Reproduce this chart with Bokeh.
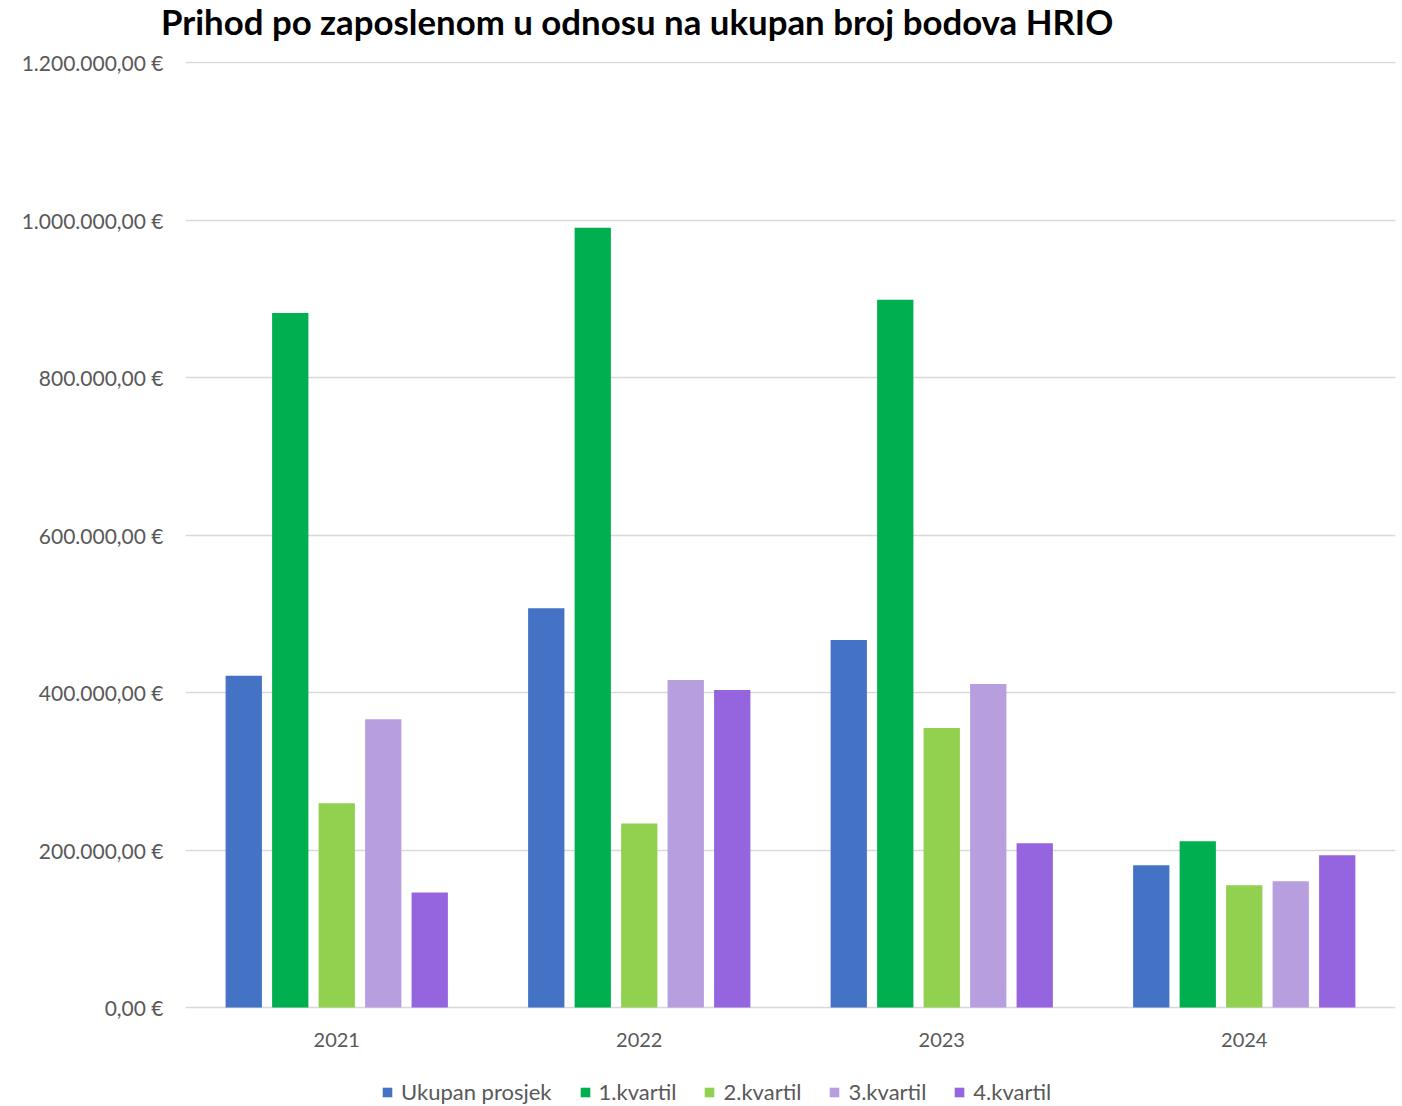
from bokeh.plotting import figure
from bokeh.models import ColumnDataSource, FactorRange, Legend, LegendItem, FixedTicker, Div
from bokeh.layouts import column
from bokeh.transform import dodge
from bokeh.core.properties import value
from bokeh.embed import file_html
from bokeh.resources import INLINE

title_text = "Prihod po zaposlenom u odnosu na ukupan broj bodova HRIO"
years = ["2021", "2022", "2023", "2024"]
series_names = ["Ukupan prosjek", "1.kvartil", "2.kvartil", "3.kvartil", "4.kvartil"]
ukupan_prosjek = [421500, 507000, 466700, 180600]
kvartil_1 = [882000, 990500, 899000, 211000]
kvartil_2 = [259500, 233600, 355000, 155300]
kvartil_3 = [366000, 416000, 411000, 160400]
kvartil_4 = [146000, 403400, 208500, 193300]
y_ticks = [0, 200000, 400000, 600000, 800000, 1000000, 1200000]
y_tick_labels = ["0,00 €", "200.000,00 €", "400.000,00 €", "600.000,00 €",
                 "800.000,00 €", "1.000.000,00 €", "1.200.000,00 €"]
colors = ["#4472C4", "#00B050", "#92D050", "#B79FDF", "#9564DF"]

FONT = "Lato"
TXT = "#595959"

src = ColumnDataSource(dict(year=years, s0=ukupan_prosjek, s1=kvartil_1,
                            s2=kvartil_2, s3=kvartil_3, s4=kvartil_4,
                            zero=[0] * len(years)))

title = Div(text='<div style="font-family:Lato; font-weight:bold; font-size:34.8px; '
                 'line-height:43px; padding-left:161px; white-space:nowrap; color:black;">'
                 + title_text + '</div>',
            width=1400, height=44, margin=0)

# frame extends below zero to hold the category labels and the legend
p = figure(width=1400, height=1060, x_range=FactorRange(*years), y_range=(-123200, 1201500),
           output_backend="svg", toolbar_location=None, margin=0,
           min_border_left=185, min_border_right=5, min_border_top=17, min_border_bottom=0)
p.outline_line_color = None
p.background_fill_color = "white"

offsets = [-0.3074, -0.1537, 0.0, 0.1537, 0.3074]
items = []
for i, name in enumerate(series_names):
    r = p.vbar(x=dodge("year", offsets[i], range=p.x_range), top="s%d" % i, width=0.12,
               source=src, fill_color=colors[i], line_color=None)
    items.append(LegendItem(label=name, renderers=[r]))

# category labels under the baseline
p.text(x="year", y="zero", text="year", source=src, y_offset=33,
       text_align="center", text_baseline="middle",
       text_font=value(FONT), text_font_size="20px", text_color=TXT)

p.xaxis.visible = False
p.yaxis.ticker = FixedTicker(ticks=y_ticks)
p.yaxis.major_label_overrides = {t: l for t, l in zip(y_ticks, y_tick_labels)}
p.yaxis.axis_line_color = None
p.yaxis.major_tick_line_color = None
p.yaxis.minor_tick_line_color = None
p.yaxis.major_label_standoff = 16
p.yaxis.major_label_text_font = FONT
p.yaxis.major_label_text_font_size = "21px"
p.yaxis.major_label_text_color = TXT

p.xgrid.grid_line_color = None
p.ygrid.grid_line_color = "#D9D9D9"
p.ygrid.grid_line_width = 1.5

legend = Legend(items=items, orientation="horizontal", location=(196, -1),
                label_text_font=FONT, label_text_font_size="22px", label_text_color=TXT,
                glyph_width=12, glyph_height=12, label_standoff=8, spacing=27,
                padding=0, margin=0, border_line_color=None, background_fill_alpha=0)
p.add_layout(legend, "center")

layout = column(title, p, spacing=0, margin=0)
open("out.html", "w").write(file_html(layout, INLINE))
